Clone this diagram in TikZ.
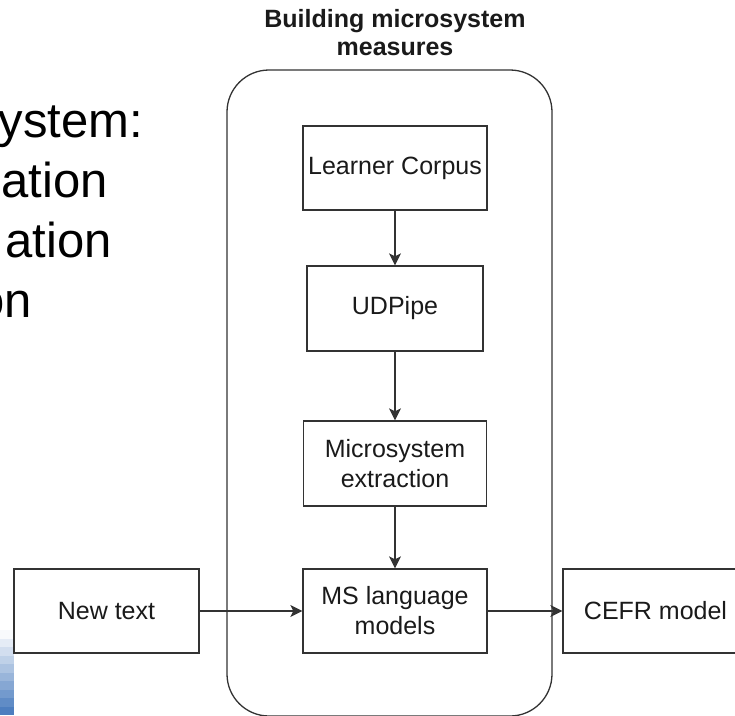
\documentclass[tikz,border=0pt]{standalone}
\usepackage{fontspec}
\setmainfont{Liberation Sans}
\usetikzlibrary{arrows.meta}
\definecolor{edgegray}{HTML}{333333}
\definecolor{inkgray}{HTML}{1A1A1A}
\definecolor{slideblue}{RGB}{74,124,190}

\begin{document}
\begin{tikzpicture}[x=1pt,y=-1pt]
    \tikzstyle{every node}+=[inner sep=0pt, text=inkgray]
    \tikzstyle{procbox}=[draw=edgegray, line width=1.3pt, rectangle, minimum height=84pt, align=center, font=\fontsize{25}{30}\selectfont]
    \tikzstyle{groupbox}=[draw=edgegray, line width=1.3pt, rectangle, rounded corners=42pt]
    \tikzstyle{slidetext}=[anchor=base east, text=black, font=\fontsize{49}{58}\selectfont]
    \tikzstyle{flow}=[draw=edgegray, line width=1.3pt, -{Stealth[length=12pt,width=12pt,inset=3pt]}]
    \useasboundingbox (0,0) rectangle (735,715);
    % left over from the slide behind
    \node [slidetext] (lineA) at (143,137) {ystem:};
    \node [slidetext] (lineB) at (108,197) {ation};
    \node [slidetext] (lineC) at (112,257) {ation};
    \node [slidetext] (lineD) at (32,317) {on};
    \foreach \i in {0,...,9} {
        \pgfmathsetmacro{\shade}{4+10.5*\i}
        \fill [slideblue!\shade!white] (0,630+8.5*\i) rectangle (14,638.6+8.5*\i);
    }
    % group of the measure building steps
    \node [groupbox, minimum width=325pt, minimum height=646pt] (group) at (389.5,393) {};
    \node [align=center, font=\bfseries\fontsize{25}{28}\selectfont] (title) at (395,33) {Building microsystem\\measures};
    \node [procbox, minimum width=184pt] (corpus) at (395,168) {Learner Corpus};
    \node [procbox, minimum width=176pt, minimum height=85pt] (udpipe) at (395,308.5) {UDPipe};
    \node [procbox, minimum width=183pt, minimum height=85pt] (extract) at (395,463.5) {Microsystem\\extraction};
    \node [procbox, minimum width=184pt] (mslm) at (395,611) {MS language\\models};
    \node [procbox, minimum width=185pt] (newtext) at (106.5,611) {New text};
    \node [procbox, minimum width=185pt] (cefr) at (655.5,611) {CEFR model};
    \draw [flow] (corpus) -- (udpipe);
    \draw [flow] (udpipe) -- (extract);
    \draw [flow] (extract) -- (mslm);
    \draw [flow] (newtext) -- (mslm);
    \draw [flow] (mslm) -- (cefr);
\end{tikzpicture}
\end{document}
